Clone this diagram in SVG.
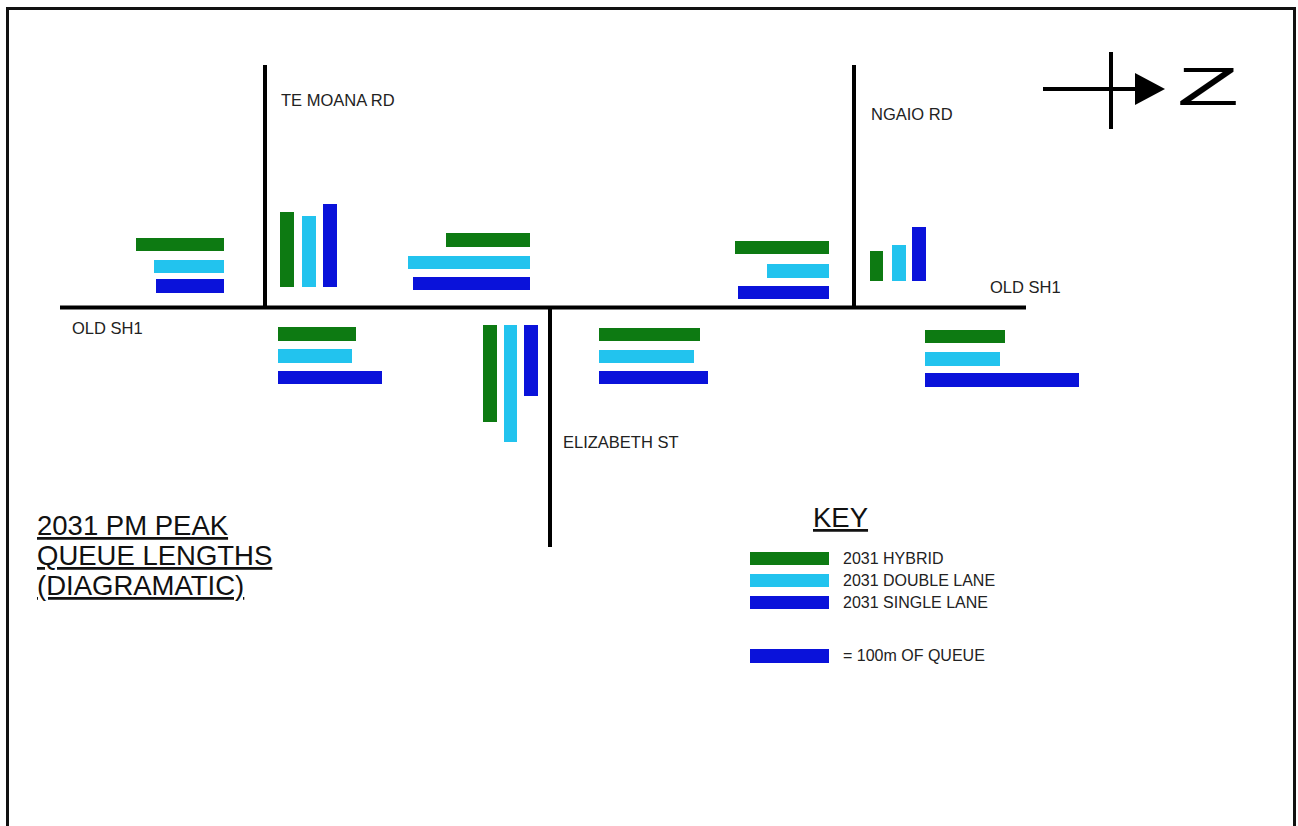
<svg xmlns="http://www.w3.org/2000/svg" width="1298" height="826" viewBox="0 0 1298 826">
<style>
.road{stroke:#000;stroke-width:4;fill:none}
.g{fill:#0d7a12}
.c{fill:#22c3ee}
.b{fill:#0a12da}
.lbl{font-family:"Liberation Sans",Arial,sans-serif;font-size:16.5px;fill:#222}
.key{font-family:"Liberation Sans",Arial,sans-serif;font-size:16px;fill:#222}
.title{font-family:"Liberation Sans",Arial,sans-serif;font-size:27.5px;fill:#111;text-decoration:underline}
</style>
<rect width="1298" height="826" fill="#fff"/>
<path d="M7.5,840 V8.5 H1294.5 V840" stroke="#111" stroke-width="3" fill="none"/>
<g id="roads" class="connectors">
<line class="road" x1="60" y1="307.5" x2="1026" y2="307.5"/>
<line class="road" x1="265" y1="65" x2="265" y2="307.5"/>
<line class="road" x1="854" y1="65" x2="854" y2="307.5"/>
<line class="road" x1="550" y1="307.5" x2="550" y2="547"/>
</g>
<g id="labels">
<text class="lbl" x="281" y="106">TE MOANA RD</text>
<text class="lbl" x="871" y="120">NGAIO RD</text>
<text class="lbl" x="72" y="334">OLD SH1</text>
<text class="lbl" x="990" y="293">OLD SH1</text>
<text class="lbl" x="563" y="448">ELIZABETH ST</text>
</g>
<g id="north-arrow">
<line x1="1043" y1="89" x2="1140" y2="89" stroke="#000" stroke-width="4"/>
<line x1="1111" y1="52" x2="1111" y2="129" stroke="#000" stroke-width="4"/>
<polygon points="1135,73 1165,89 1135,105" fill="#000"/>
<text x="1177" y="105" font-family="Liberation Sans, Arial, sans-serif" font-size="54" textLength="62" lengthAdjust="spacingAndGlyphs" fill="#000">Z</text>
</g>
<g id="q-temoana-west">
<rect class="g" x="136" y="238" width="88" height="13"/>
<rect class="c" x="154" y="260" width="70" height="13"/>
<rect class="b" x="156" y="279" width="68" height="14"/>
</g>
<g id="q-temoana-north">
<rect class="g" x="280" y="212" width="14" height="75"/>
<rect class="c" x="302" y="216" width="14" height="71"/>
<rect class="b" x="323" y="204" width="14" height="83"/>
</g>
<g id="q-elizabeth-west">
<rect class="g" x="446" y="233" width="84" height="14"/>
<rect class="c" x="408" y="256" width="122" height="13"/>
<rect class="b" x="413" y="277" width="117" height="13"/>
</g>
<g id="q-temoana-east">
<rect class="g" x="278" y="327" width="78" height="14"/>
<rect class="c" x="278" y="349" width="74" height="14"/>
<rect class="b" x="278" y="371" width="104" height="13"/>
</g>
<g id="q-elizabeth-south">
<rect class="g" x="483" y="325" width="14" height="97"/>
<rect class="c" x="504" y="325" width="13" height="117"/>
<rect class="b" x="524" y="325" width="14" height="71"/>
</g>
<g id="q-elizabeth-east">
<rect class="g" x="599" y="328" width="101" height="13"/>
<rect class="c" x="599" y="350" width="95" height="13"/>
<rect class="b" x="599" y="371" width="109" height="13"/>
</g>
<g id="q-ngaio-west">
<rect class="g" x="735" y="241" width="94" height="13"/>
<rect class="c" x="767" y="264" width="62" height="14"/>
<rect class="b" x="738" y="286" width="91" height="13"/>
</g>
<g id="q-ngaio-north">
<rect class="g" x="870" y="251" width="13" height="30"/>
<rect class="c" x="892" y="245" width="14" height="36"/>
<rect class="b" x="912" y="227" width="14" height="54"/>
</g>
<g id="q-ngaio-east">
<rect class="g" x="925" y="330" width="80" height="13"/>
<rect class="c" x="925" y="352" width="75" height="14"/>
<rect class="b" x="925" y="373" width="154" height="14"/>
</g>
<g id="title">
<text class="title" x="37" y="535">2031 PM PEAK</text>
<text class="title" x="37" y="565">QUEUE LENGTHS</text>
<text class="title" x="37" y="595">(DIAGRAMATIC)</text>
</g>
<g id="key">
<text class="title" x="813" y="527">KEY</text>
<rect class="g" x="750" y="552" width="79" height="13"/>
<rect class="c" x="750" y="574" width="79" height="13"/>
<rect class="b" x="750" y="596" width="79" height="13"/>
<rect class="b" x="750" y="649" width="79" height="14"/>
<text class="key" x="843" y="564">2031 HYBRID</text>
<text class="key" x="843" y="586">2031 DOUBLE LANE</text>
<text class="key" x="843" y="608">2031 SINGLE LANE</text>
<text class="key" x="843" y="661">= 100m OF QUEUE</text>
</g>
</svg>
